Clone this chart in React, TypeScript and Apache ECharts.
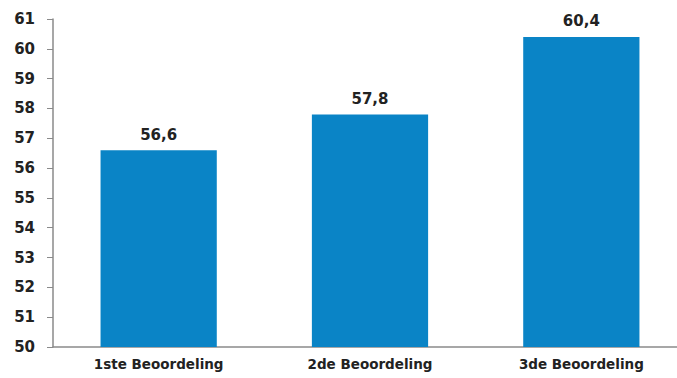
import React, { useEffect, useRef } from "react";
import * as echarts from "echarts";

const categories = ["1ste Beoordeling", "2de Beoordeling", "3de Beoordeling"];
const values = [56.6, 57.8, 60.4];
const yMin = 50;
const yMax = 61;

export default function App() {
  const ref = useRef<HTMLDivElement>(null);
  useEffect(() => {
    if (!ref.current) return;
    const chart = echarts.init(ref.current, null, { renderer: "svg" });
    const font = "'DejaVu Sans', sans-serif";
    chart.setOption({
      animation: false,
      grid: { left: 53, right: 0, top: 19, bottom: 31, containLabel: false },
      xAxis: {
        type: "category",
        data: categories,
        axisLine: { show: true, lineStyle: { color: "#8a8a8a", width: 1.5 } },
        axisTick: { show: false },
        axisLabel: {
          color: "#222",
          fontFamily: font,
          fontWeight: "bold",
          fontSize: 13.5,
          margin: 10,
        },
      },
      yAxis: {
        type: "value",
        min: yMin,
        max: yMax,
        interval: 1,
        splitLine: { show: false },
        axisLine: { show: true, lineStyle: { color: "#8a8a8a", width: 1.5 } },
        axisTick: { show: true, length: 6, lineStyle: { color: "#8a8a8a" } },
        axisLabel: {
          color: "#222",
          fontFamily: font,
          fontWeight: "bold",
          fontSize: 15,
          margin: 18,
        },
      },
      series: [
        {
          type: "bar",
          data: values,
          barWidth: "55%",
          itemStyle: { color: "#0a84c6" },
          label: {
            show: true,
            position: "top",
            distance: 8,
            color: "#222",
            fontFamily: font,
            fontWeight: "bold",
            fontSize: 15,
            formatter: (p: any) => String(p.value).replace(".", ","),
          },
        },
      ],
    });
    return () => chart.dispose();
  }, []);
  return (
    <div style={{ width: 677, height: 378, position: "absolute", left: 0, top: 0, overflow: "hidden" }}>
      <div ref={ref} style={{ width: 687, height: 378 }} />
    </div>
  );
}
